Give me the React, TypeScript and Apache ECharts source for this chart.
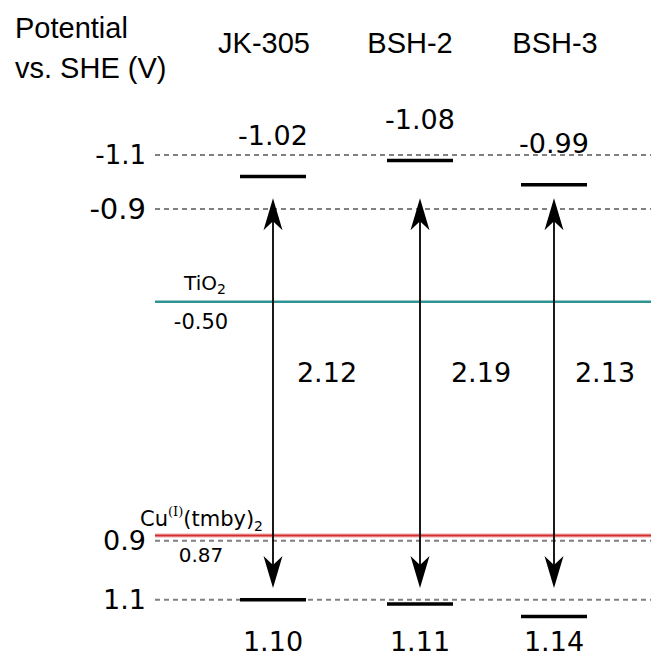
import React, { useEffect, useRef } from "react";
import * as echarts from "echarts";

// ---------------- data ----------------
const compounds = ["JK-305", "BSH-2", "BSH-3"];
const excitedStatePotentials = [-1.02, -1.08, -0.99];
const groundStatePotentials = [1.1, 1.11, 1.14];
const bandGaps = [2.12, 2.19, 2.13];
const tio2Potential = -0.5;
const cuPotential = 0.87;
const axisTickValues = [-1.1, -0.9, 0.9, 1.1];

// ---------------- layout ----------------
const W = 651;
const H = 659;
const GRID_LEFT = 155;
const COLUMN_X = [273, 420, 554];
const HEADER_X = [264, 410, 555];
const GAP_LABEL_DX = [54, 61, 51];
const ARROW_RANGE = [-0.94, 1.06];
const BOTTOM_LABEL_Y = 641;
const NUM_FONT = "'DejaVu Sans', Verdana, sans-serif";
const HEAD_FONT = "'Liberation Sans', Arial, sans-serif";

// schematic (broken) potential axis: potential -> vertical diagram position
const AXIS_ANCHORS: [number, number][] = [
  [-1.2, 128],
  [-1.1, 155],
  [-0.9, 209],
  [-0.5, 301.7],
  [0.9, 540.7],
  [1.1, 599.8],
  [1.2, 641.5],
];

function toDiagram(v: number): number {
  const a = AXIS_ANCHORS;
  let i = 0;
  while (i < a.length - 2 && v > a[i + 1][0]) i++;
  const [v0, p0] = a[i];
  const [v1, p1] = a[i + 1];
  return p0 + ((v - v0) * (p1 - p0)) / (v1 - v0);
}

const tickDiagram = axisTickValues.map(toDiagram);
const tickFontSizes = [26, 29, 27, 27];

export default function App() {
  const ref = useRef<HTMLDivElement>(null);

  useEffect(() => {
    if (!ref.current) return;
    const chart = echarts.init(ref.current, undefined, { renderer: "svg" });

    const rich: Record<string, any> = {};
    tickFontSizes.forEach((fs, i) => {
      rich["t" + i] = { fontSize: fs, fontFamily: NUM_FONT, color: "#000" };
    });

    const guideData = axisTickValues.map((v) => [GRID_LEFT, toDiagram(v), v]);
    const interfaceData = [
      [GRID_LEFT, toDiagram(tio2Potential), tio2Potential, 0],
      [GRID_LEFT, toDiagram(cuPotential), cuPotential, 1],
    ];
    const arrowData = COLUMN_X.map((x, i) => [
      x,
      toDiagram(ARROW_RANGE[0]),
      toDiagram(ARROW_RANGE[1]),
      bandGaps[i],
      i,
    ]);
    const levelData: number[][] = [];
    COLUMN_X.forEach((x, i) => {
      levelData.push([x, toDiagram(excitedStatePotentials[i]), excitedStatePotentials[i], 0]);
      levelData.push([x, toDiagram(groundStatePotentials[i]), groundStatePotentials[i], 1]);
    });

    const arrowHead = (x: number, tipY: number, dir: number) => {
      const len = 32;
      const notch = 23;
      const half = 9.5;
      return {
        type: "polygon",
        shape: {
          points: [
            [x, tipY],
            [x + half, tipY + dir * len],
            [x, tipY + dir * notch],
            [x - half, tipY + dir * len],
          ],
        },
        style: { fill: "#000" },
      };
    };

    const option: any = {
      animation: false,
      grid: { left: GRID_LEFT, right: 0, top: 0, bottom: 0, containLabel: false },
      xAxis: { type: "value", min: GRID_LEFT, max: W, show: false },
      yAxis: {
        type: "value",
        min: 0,
        max: H,
        inverse: true,
        axisLine: { show: false },
        axisTick: { show: false },
        splitLine: { show: false },
        axisLabel: {
          customValues: tickDiagram,
          margin: 9,
          formatter: (u: number) => {
            const idx = tickDiagram.findIndex((d) => Math.abs(d - u) < 0.01);
            if (idx < 0) return "";
            return "{t" + idx + "|" + axisTickValues[idx].toFixed(1) + "}";
          },
          rich,
        },
      },
      graphic: [
        {
          type: "text",
          x: 15,
          y: 28,
          style: {
            text: "Potential",
            fontSize: 29,
            fontFamily: HEAD_FONT,
            fill: "#000",
            align: "left",
            verticalAlign: "middle",
          },
        },
        {
          type: "text",
          x: 15,
          y: 68,
          style: {
            text: "vs. SHE (V)",
            fontSize: 29,
            fontFamily: HEAD_FONT,
            fill: "#000",
            align: "left",
            verticalAlign: "middle",
          },
        },
        ...compounds.map((c, i) => ({
          type: "text",
          x: HEADER_X[i],
          y: 43,
          style: {
            text: c,
            fontSize: 29,
            fontFamily: HEAD_FONT,
            fill: "#000",
            align: "center",
            verticalAlign: "middle",
          },
        })),
      ],
      series: [
        {
          type: "custom",
          name: "guides",
          clip: false,
          encode: { x: 0, y: 1 },
          data: guideData,
          renderItem: (params: any, api: any) => {
            const y = api.coord([GRID_LEFT, api.value(1)])[1];
            const cs = params.coordSys;
            return {
              type: "line",
              shape: { x1: cs.x, y1: y, x2: cs.x + cs.width, y2: y },
              style: { stroke: "#808080", lineWidth: 2, lineDash: [5, 4] },
            };
          },
        },
        {
          type: "custom",
          name: "interfaces",
          clip: false,
          encode: { x: 0, y: 1 },
          data: interfaceData,
          renderItem: (params: any, api: any) => {
            const y = api.coord([GRID_LEFT, api.value(1)])[1];
            const cs = params.coordSys;
            const kind = api.value(3);
            const val = api.value(2) as number;
            if (kind === 0) {
              return {
                type: "group",
                children: [
                  {
                    type: "line",
                    shape: { x1: cs.x, y1: y, x2: cs.x + cs.width, y2: y },
                    style: { stroke: "#2e9494", lineWidth: 2.5 },
                  },
                  {
                    type: "text",
                    x: 205,
                    y: y - 19,
                    style: {
                      text: "{m|TiO}{s|2}",
                      align: "center",
                      verticalAlign: "middle",
                      rich: {
                        m: { fontSize: 20, fontFamily: NUM_FONT, color: "#000", lineHeight: 26, verticalAlign: "middle" },
                        s: { fontSize: 14, fontFamily: NUM_FONT, color: "#000", lineHeight: 14, verticalAlign: "bottom" },
                      },
                    },
                  },
                  {
                    type: "text",
                    x: 201,
                    y: y + 20,
                    style: {
                      text: val.toFixed(2),
                      fontSize: 21,
                      fontFamily: NUM_FONT,
                      fill: "#000",
                      align: "center",
                      verticalAlign: "middle",
                    },
                  },
                ],
              };
            }
            return {
              type: "group",
              children: [
                {
                  type: "line",
                  shape: { x1: cs.x, y1: y, x2: cs.x + cs.width, y2: y },
                  style: { stroke: "rgba(220,90,90,0.35)", lineWidth: 4.5 },
                },
                {
                  type: "line",
                  shape: { x1: cs.x, y1: y, x2: cs.x + cs.width, y2: y },
                  style: { stroke: "#d32f2f", lineWidth: 2 },
                },
                {
                  type: "text",
                  x: 140,
                  y: y - 17,
                  style: {
                    text: "{m|Cu}{p|(I)}{m|(tmby)}{s|2}",
                    align: "left",
                    verticalAlign: "middle",
                    rich: {
                      m: { fontSize: 21, fontFamily: NUM_FONT, color: "#000", lineHeight: 28, verticalAlign: "middle" },
                      p: { fontSize: 13, fontFamily: "'DejaVu Serif', serif", color: "#000", lineHeight: 13, verticalAlign: "top" },
                      s: { fontSize: 14, fontFamily: NUM_FONT, color: "#000", lineHeight: 14, verticalAlign: "bottom" },
                    },
                  },
                },
                {
                  type: "text",
                  x: 201,
                  y: y + 19,
                  style: {
                    text: val.toFixed(2),
                    fontSize: 20,
                    fontFamily: NUM_FONT,
                    fill: "#000",
                    align: "center",
                    verticalAlign: "middle",
                  },
                },
              ],
            };
          },
        },
        {
          type: "custom",
          name: "arrows",
          clip: false,
          encode: { x: 0, y: [1, 2] },
          data: arrowData,
          renderItem: (params: any, api: any) => {
            const x = api.coord([api.value(0), api.value(1)])[0];
            const yTop = api.coord([api.value(0), api.value(1)])[1];
            const yBot = api.coord([api.value(0), api.value(2)])[1];
            const idx = api.value(4) as number;
            const gap = api.value(3) as number;
            return {
              type: "group",
              children: [
                {
                  type: "line",
                  shape: { x1: x, y1: yTop + 10, x2: x, y2: yBot - 10 },
                  style: { stroke: "#000", lineWidth: 1.8 },
                },
                arrowHead(x, yTop, 1),
                arrowHead(x, yBot, -1),
                {
                  type: "text",
                  x: x + GAP_LABEL_DX[idx],
                  y: (yTop + yBot) / 2 - 21,
                  style: {
                    text: gap.toFixed(2),
                    fontSize: 27,
                    fontFamily: NUM_FONT,
                    fill: "#000",
                    align: "center",
                    verticalAlign: "middle",
                  },
                },
              ],
            };
          },
        },
        {
          type: "custom",
          name: "levels",
          clip: false,
          encode: { x: 0, y: 1 },
          data: levelData,
          renderItem: (params: any, api: any) => {
            const [cx, cy] = api.coord([api.value(0), api.value(1)]);
            const isTop = api.value(3) === 0;
            const val = api.value(2) as number;
            return {
              type: "group",
              children: [
                {
                  type: "line",
                  shape: { x1: cx - 33, y1: cy, x2: cx + 33, y2: cy },
                  style: { stroke: "#000", lineWidth: 3.5 },
                },
                {
                  type: "text",
                  x: cx,
                  y: isTop ? cy - 41 : BOTTOM_LABEL_Y,
                  style: {
                    text: val.toFixed(2),
                    fontSize: 27,
                    fontFamily: NUM_FONT,
                    fill: "#000",
                    align: "center",
                    verticalAlign: "middle",
                  },
                },
              ],
            };
          },
        },
      ],
    };

    chart.setOption(option);
    return () => chart.dispose();
  }, []);

  return (
    <div
      ref={ref}
      style={{ position: "fixed", left: 0, top: 0, width: W, height: H, background: "#fff" }}
    />
  );
}
